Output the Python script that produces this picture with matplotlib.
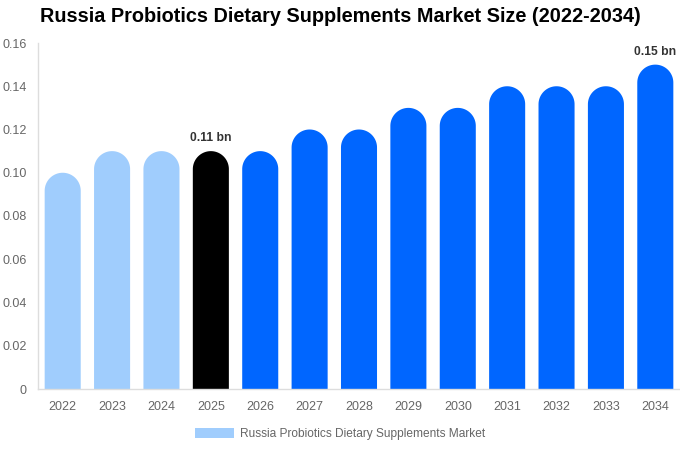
import matplotlib
matplotlib.use("Agg")
import numpy as np
import matplotlib.pyplot as plt
from matplotlib.patches import Patch, PathPatch
from matplotlib.path import Path

years = ["2022", "2023", "2024", "2025", "2026", "2027", "2028", "2029", "2030",
         "2031", "2032", "2033", "2034"]
values = [0.10, 0.11, 0.11, 0.11, 0.11, 0.12, 0.12, 0.13, 0.13, 0.14, 0.14, 0.14, 0.15]
colors = ["#a0cdfd"] * 3 + ["#000000"] + ["#0066ff"] * 9
labels = {3: "0.11 bn", 12: "0.15 bn"}
yticks = [0, 0.02, 0.04, 0.06, 0.08, 0.10, 0.12, 0.14, 0.16]
ytick_labels = ["0", "0.02", "0.04", "0.06", "0.08", "0.10", "0.12", "0.14", "0.16"]
legend_label = "Russia Probiotics Dietary Supplements Market"
title = "Russia Probiotics Dietary Supplements Market Size (2022-2034)"

plt.rcParams["font.family"] = ["Liberation Sans", "DejaVu Sans"]

fig = plt.figure(figsize=(6.8, 4.5), dpi=100)
ax = fig.add_axes([38 / 680, (450 - 389) / 450, 642 / 680, 346 / 450])
ax.set_xlim(-0.5, len(years) - 0.5)
ax.set_ylim(0, 0.16)

bw = 0.73
fig.canvas.draw()
p0 = ax.transData.transform((0, 0))
p1 = ax.transData.transform((bw, 0.01))
r_px = (p1[0] - p0[0]) / 2
ry = r_px / ((p1[1] - p0[1]) / 0.01)
rx = bw / 2

theta = np.linspace(0, np.pi, 60)
xs = list(range(len(years)))
for x, v, c in zip(xs, values, colors):
    yc = v - ry
    verts = [(x - rx, 0), (x + rx, 0), (x + rx, yc)]
    verts += [(x + rx * np.cos(t), yc + ry * np.sin(t)) for t in theta]
    verts += [(x - rx, 0)]
    codes = [Path.MOVETO] + [Path.LINETO] * (len(verts) - 2) + [Path.CLOSEPOLY]
    ax.add_patch(PathPatch(Path(verts, codes), facecolor=c, edgecolor="none"))

for i, t in labels.items():
    ax.annotate(t, (xs[i], values[i]), xytext=(0, 5), textcoords="offset points",
                ha="center", va="bottom", fontsize=8.7, fontweight="bold", color="#333333")

ax.set_xticks(xs)
ax.set_xticklabels(years)
ax.set_yticks(yticks)
ax.set_yticklabels(ytick_labels)
ax.tick_params(axis="both", length=0, labelsize=9, labelcolor="#666666")
ax.tick_params(axis="x", pad=9)
ax.tick_params(axis="y", pad=8)
for s in ["top", "right"]:
    ax.spines[s].set_visible(False)
for s in ["left", "bottom"]:
    ax.spines[s].set_color("#dddddd")
    ax.spines[s].set_linewidth(1)

fig.suptitle(title, x=0.5, y=0.985, fontsize=14.3, fontweight="bold", color="#000000", va="top")

fig.legend(handles=[Patch(facecolor="#a0cdfd", edgecolor="none", label=legend_label)],
           loc="center", bbox_to_anchor=(0.5, (450 - 434) / 450), frameon=False,
           fontsize=8.6, labelcolor="#666666", handlelength=3.3, handleheight=1.0,
           handletextpad=0.5)

fig.savefig("out.png", dpi=100)
